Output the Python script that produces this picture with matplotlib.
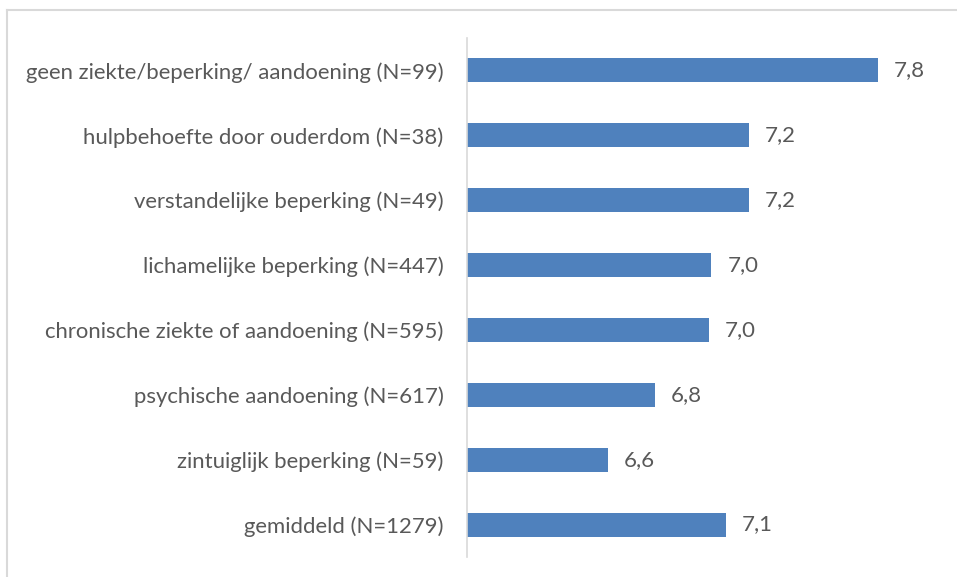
import matplotlib
matplotlib.use("Agg")
import matplotlib.pyplot as plt
from matplotlib.lines import Line2D

categories = [
    "geen ziekte/beperking/ aandoening (N=99)",
    "hulpbehoefte door ouderdom (N=38)",
    "verstandelijke beperking (N=49)",
    "lichamelijke beperking (N=447)",
    "chronische ziekte of aandoening (N=595)",
    "psychische aandoening (N=617)",
    "zintuiglijk beperking (N=59)",
    "gemiddeld (N=1279)",
]
values = [7.75, 7.2, 7.2, 7.04, 7.03, 6.8, 6.6, 7.1]
labels = ["7,8", "7,2", "7,2", "7,0", "7,0", "6,8", "6,6", "7,1"]

text_color = "#595959"
bar_color = "#4F81BD"
plt.rcParams['font.family'] = ['Lato', 'DejaVu Sans']

fig = plt.figure(figsize=(9.57, 5.77), dpi=100)
ax = fig.add_axes([467 / 957, 20 / 577, 470 / 957, 519 / 577])

y = list(range(len(categories)))
ax.barh(y, [v - 6 for v in values], left=6, height=0.37, color=bar_color)
for yi, v, lab in zip(y, values, labels):
    ax.text(v + 0.068, yi, lab, va="center", ha="left", fontsize=16, color=text_color)

ax.set_xlim(6, 8)
ax.set_ylim(len(categories) - 0.5, -0.5)
ax.set_yticks(y)
ax.set_yticklabels(categories, fontsize=15.9, color=text_color)
ax.tick_params(axis="y", length=0, pad=17)
ax.set_xticks([])
for s in ["top", "right", "bottom"]:
    ax.spines[s].set_visible(False)
ax.spines["left"].set_color("#D9D9D9")
ax.spines["left"].set_linewidth(1.2)

# outer chart border (only top and left are inside the image)
fig.add_artist(Line2D([7 / 957, 7 / 957], [0, 1 - 10 / 577], color="#D9D9D9", lw=1.5, transform=fig.transFigure))
fig.add_artist(Line2D([7 / 957, 1], [1 - 10 / 577, 1 - 10 / 577], color="#D9D9D9", lw=1.5, transform=fig.transFigure))

fig.savefig("out.png", dpi=100)
